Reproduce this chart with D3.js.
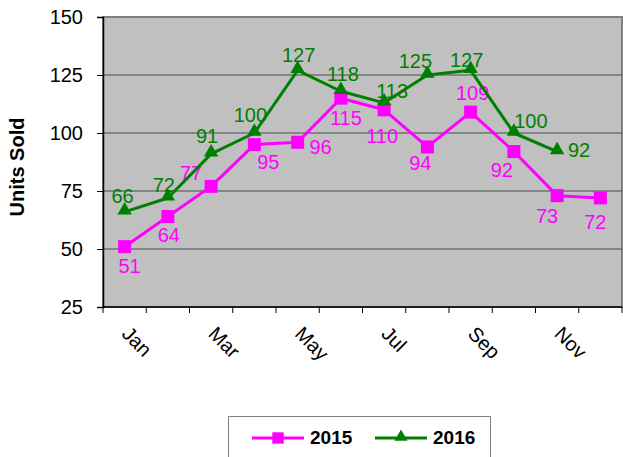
<!DOCTYPE html>
<html>
<head>
<meta charset="utf-8">
<script src="https://cdn.jsdelivr.net/npm/d3@7/dist/d3.min.js"></script>
<style>
  html, body { margin: 0; padding: 0; background: #fff; }
  svg { display: block; font-family: "Liberation Sans", Arial, sans-serif; }
</style>
</head>
<body>
<svg id="chart" width="623" height="457"></svg>
<script>
// Monthly units sold
const months = ["Jan","Feb","Mar","Apr","May","Jun","Jul","Aug","Sep","Oct","Nov","Dec"];
const tickMonths = ["Jan","Mar","May","Jul","Sep","Nov"];
const sales2015 = [51, 64, 77, 95, 96, 115, 110, 94, 109, 92, 73, 72];
const sales2016 = [66, 72, 91, 100, 127, 118, 113, 125, 127, 100, 92];
const yTicks = [25, 50, 75, 100, 125, 150];

// Value-label offsets from each marker (dx to label centre, dy to baseline)
const offsets2015 = [[5,26],[1,25],[-20,-6],[14,24],[23,12],[5,27],[-2,33],[-7,23],[2,-12],[-12,25],[-10,27],[-5,31]];
const offsets2016 = [[-2,-9],[-4,-6],[-4,-11],[-4,-11],[1,-8],[2,-10],[8,-5],[-12,-7],[-4,-3],[17,-5],[22,5]];

const svg = d3.select("#chart");
const plot = { left: 103, top: 17, right: 622, bottom: 307 };
const FONT = 20;

const x = d3.scaleBand().domain(months).range([plot.left, plot.right]).padding(0);
const y = d3.scaleLinear().domain([25, 150]).range([plot.bottom, plot.top]);
const cx = m => x(m) + x.bandwidth() / 2;

// Plot background and frame
svg.append("rect")
  .attr("x", plot.left).attr("y", plot.top)
  .attr("width", plot.right - plot.left).attr("height", plot.bottom - plot.top)
  .attr("fill", "#c0c0c0").attr("stroke", "#808080").attr("stroke-width", 2);

// Horizontal gridlines
svg.append("g").selectAll("line")
  .data(yTicks.filter(v => v > 25 && v < 150))
  .join("line")
  .attr("x1", plot.left).attr("x2", plot.right)
  .attr("y1", d => y(d)).attr("y2", d => y(d))
  .attr("stroke", "#4a4a4a").attr("stroke-width", 1.2);

// Y axis
const yAxis = svg.append("g")
  .attr("transform", `translate(${plot.left},0)`)
  .call(d3.axisLeft(y).tickValues(yTicks).tickSize(6).tickPadding(14));
yAxis.select(".domain").attr("stroke", "#000").attr("stroke-width", 1.5);
yAxis.selectAll(".tick line").attr("stroke", "#000");
yAxis.selectAll("text").attr("font-size", FONT).attr("fill", "#000")
  .attr("font-family", "'Liberation Sans', Arial, sans-serif");

// X axis: ticks on band boundaries
const xAxisG = svg.append("g").attr("transform", `translate(0,${plot.bottom})`);
xAxisG.append("line")
  .attr("x1", plot.left).attr("x2", plot.right)
  .attr("stroke", "#000").attr("stroke-width", 1.5);
const boundaries = months.map(m => x(m)).concat([plot.right]);
xAxisG.selectAll("line.tk").data(boundaries).join("line")
  .attr("class", "tk")
  .attr("x1", d => d).attr("x2", d => d)
  .attr("y1", 0).attr("y2", 6)
  .attr("stroke", "#000");
xAxisG.selectAll("text").data(tickMonths).join("text")
  .attr("transform", d => `translate(${cx(d) - 4},${28}) rotate(45)`)
  .attr("font-size", FONT).attr("fill", "#000")
  .text(d => d);

// Y axis title
svg.append("text")
  .attr("transform", `translate(24,167) rotate(-90)`)
  .attr("text-anchor", "middle")
  .attr("font-size", FONT).attr("font-weight", "bold")
  .text("Units Sold");

const line = d3.line().x((d, i) => cx(months[i])).y(d => y(d));

function drawSeries(values, color, shape, offsets) {
  const g = svg.append("g");
  g.append("path").datum(values)
    .attr("d", line)
    .attr("fill", "none").attr("stroke", color).attr("stroke-width", 3)
    .attr("stroke-linejoin", "round");
  const isSquare = shape === "square";
  const sym = d3.symbol().type(isSquare ? d3.symbolSquare : d3.symbolTriangle)
    .size(isSquare ? 169 : 90);
  g.selectAll("path.mk").data(values).join("path")
    .attr("class", "mk")
    .attr("transform", (d, i) => `translate(${cx(months[i])},${y(d) + (isSquare ? 0 : -1.5)})`)
    .attr("d", sym)
    .attr("fill", color);
  g.selectAll("text").data(values).join("text")
    .attr("x", (d, i) => cx(months[i]) + offsets[i][0])
    .attr("y", (d, i) => y(d) + offsets[i][1])
    .attr("text-anchor", "middle")
    .attr("font-size", FONT).attr("fill", color)
    .text(d => d);
}

drawSeries(sales2015, "#ff00ff", "square", offsets2015);
drawSeries(sales2016, "#008000", "triangle", offsets2016);

// Legend
const legend = svg.append("g");
legend.append("rect")
  .attr("x", 228.5).attr("y", 416.5).attr("width", 262).attr("height", 50)
  .attr("fill", "#fff").attr("stroke", "#808080").attr("stroke-width", 1);
const items = [
  { name: "2015", color: "#ff00ff", shape: d3.symbolSquare, size: 130, x0: 252, dy: 0 },
  { name: "2016", color: "#008000", shape: d3.symbolTriangle, size: 75, x0: 375, dy: -1 }
];
items.forEach(it => {
  legend.append("line")
    .attr("x1", it.x0).attr("x2", it.x0 + 52)
    .attr("y1", 438).attr("y2", 438)
    .attr("stroke", it.color).attr("stroke-width", 3);
  legend.append("path")
    .attr("transform", `translate(${it.x0 + 26},${438 + it.dy})`)
    .attr("d", d3.symbol().type(it.shape).size(it.size))
    .attr("fill", it.color);
  legend.append("text")
    .attr("x", it.x0 + 58).attr("y", 444)
    .attr("font-size", 19).attr("font-weight", "bold")
    .text(it.name);
});
</script>
</body>
</html>
